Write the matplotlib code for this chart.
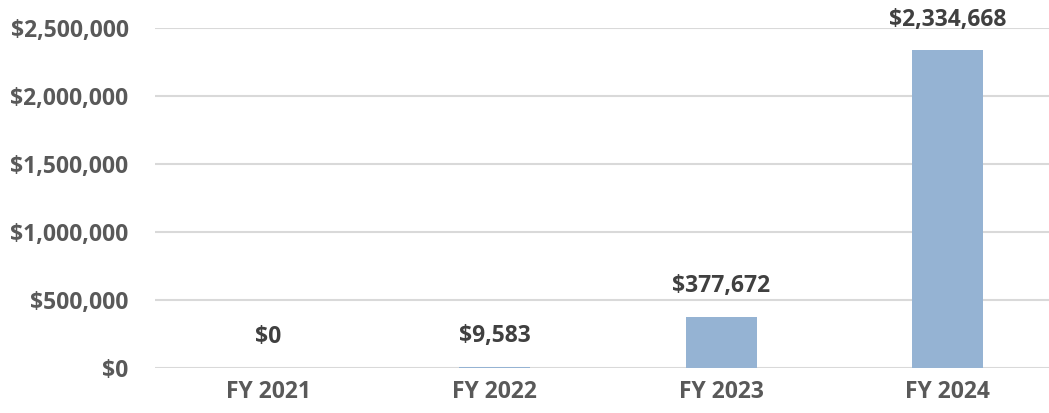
import matplotlib
matplotlib.use("Agg")
import matplotlib.pyplot as plt
from matplotlib.ticker import FuncFormatter

categories = ["FY 2021", "FY 2022", "FY 2023", "FY 2024"]
values = [0, 9583, 377672, 2334668]
yticks = [0, 500000, 1000000, 1500000, 2000000, 2500000]

plt.rcParams['font.family'] = ['Open Sans', 'DejaVu Sans']

fig = plt.figure(figsize=(10.49, 4.13), dpi=100)
ax = fig.add_axes([155/1049, 1 - 368/413, 906/1049, 340/413])

x = range(len(categories))
ax.bar(x, values, width=0.313, color="#95B3D3", zorder=3)
ax.set_xlim(-0.5, len(categories) - 0.5)
ax.set_ylim(0, 2500000)
ax.set_yticks(yticks)
ax.yaxis.set_major_formatter(FuncFormatter(lambda v, p: f"${v:,.0f}"))
ax.set_xticks(list(x))
ax.set_xticklabels(categories)

ax.grid(axis='y', color="#D9D9D9", linewidth=1.5, zorder=0)
for s in ax.spines.values():
    s.set_visible(False)
ax.tick_params(axis='both', length=0, labelsize=16.5, labelcolor="#595959")
ax.tick_params(axis='y', pad=19)
ax.tick_params(axis='x', pad=9)
for lbl in ax.get_xticklabels() + ax.get_yticklabels():
    lbl.set_fontweight('bold')

for xi, v in zip(x, values):
    ax.annotate(f"${v:,.0f}", (xi, v), xytext=(0, 22), textcoords='offset points',
                ha='center', va='center', fontsize=16.5, fontweight='bold',
                color="#404040", annotation_clip=False)

fig.savefig("out.png", dpi=100)
